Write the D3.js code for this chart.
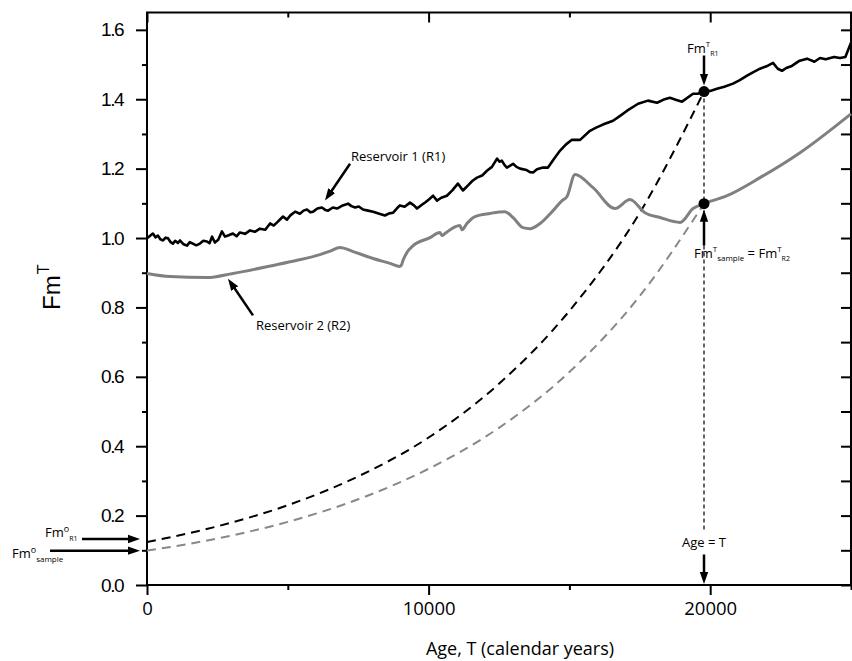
<!DOCTYPE html>
<html>
<head>
<meta charset="utf-8">
<script src="https://cdn.jsdelivr.net/npm/d3@7"></script>
<style>
  body { margin: 0; background: #fff; }
  .ytick text { font-family: "Liberation Sans", Arial, sans-serif; font-size: 19px; letter-spacing: -1.5px; fill: #000; }
  .xtick text { font-family: "Open Sans", sans-serif; font-size: 18.5px; fill: #000; }
  .tick line { stroke: #000; stroke-width: 2px; }
  .note { font-family: "Open Sans", sans-serif; font-size: 13px; fill: #000; }
</style>
</head>
<body>
<div id="chart"></div>
<script>
// Reservoir 1 (black, noisy record)
var r1Age = [0,100,210,300,390,480,570,660,750,840,920,1000,1100,1170,1300,1420,1520,1630,1750,1880,
  2000,2130,2220,2310,2410,2530,2660,2770,2900,3050,3180,3300,3480,3660,3830,4010,4200,4370,4500,4620,
  4830,4970,5100,5260,5430,5560,5680,5800,5900,6050,6210,6330,6430,6600,6750,6950,7140,7260,7390,7520,
  7670,7850,8030,8250,8450,8600,8740,8870,8980,9150,9340,9480,9590,9750,9900,10020,10160,10300,10450,10650,
  10850,11040,11220,11400,11560,11720,11900,12070,12250,12430,12520,12600,12700,12780,13000,13120,13250,13480,13600,13710,
  13850,14060,14240,14450,14670,14880,15090,15380,15730,15950,16190,16550,16800,17050,17440,17790,18110,18350,18570,18800,
  19000,19390,19560,19780,20000,20240,20500,20810,21050,21310,21550,21770,22000,22230,22400,22550,22700,22900,23150,23440,
  23700,23900,24100,24400,24610,24800,25000];
var r1Fm = [0.999,1.006,1.013,1.002,1.007,0.996,0.993,1.001,0.999,0.988,0.984,0.992,0.986,0.993,0.982,0.978,0.988,0.984,0.979,0.984,
  0.992,0.990,0.985,1.004,0.987,0.995,1.019,1.004,1.008,1.013,1.005,1.016,1.012,1.022,1.018,1.027,1.024,1.042,1.036,1.045,
  1.062,1.053,1.066,1.076,1.070,1.079,1.082,1.074,1.076,1.085,1.088,1.081,1.079,1.088,1.085,1.094,1.099,1.092,1.088,1.091,
  1.082,1.079,1.076,1.070,1.065,1.071,1.073,1.085,1.094,1.090,1.102,1.094,1.085,1.095,1.104,1.112,1.122,1.108,1.116,1.122,
  1.138,1.157,1.137,1.152,1.165,1.174,1.180,1.194,1.205,1.229,1.220,1.223,1.210,1.203,1.214,1.205,1.200,1.196,1.190,1.189,
  1.198,1.203,1.203,1.228,1.252,1.270,1.283,1.283,1.309,1.318,1.327,1.338,1.352,1.367,1.387,1.396,1.390,1.399,1.404,1.398,
  1.393,1.416,1.416,1.422,1.424,1.430,1.436,1.445,1.455,1.468,1.479,1.488,1.495,1.505,1.488,1.482,1.490,1.496,1.510,1.517,
  1.508,1.519,1.515,1.522,1.519,1.522,1.563];

// Reservoir 2 (grey record)
var r2Age = [0,820,2130,3050,4480,5300,6140,6500,6850,7320,8030,8630,8980,9050,9090,9230,9450,10050,10400,10480,
  10580,11110,11190,11360,11650,12180,12710,13000,13350,13600,13960,14420,14740,14910,15200,15840,16620,17150,17680,18220,
  18930,19390,19780,20600,21770,23190,25000];
var r2Fm = [0.898,0.889,0.886,0.898,0.921,0.935,0.952,0.962,0.973,0.961,0.941,0.927,0.918,0.925,0.935,0.958,0.978,1.001,1.016,1.007,
  1.013,1.036,1.024,1.042,1.062,1.071,1.076,1.059,1.030,1.027,1.042,1.079,1.108,1.119,1.183,1.145,1.085,1.111,1.073,1.059,
  1.045,1.085,1.099,1.122,1.174,1.246,1.358];

// back-projected decay curves (dashed)
var decayR1Age = [0,2500,5000,7500,10000,12500,15000,17500,19780];
var decayR1Fm  = [0.124,0.169,0.230,0.313,0.425,0.580,0.790,1.073,1.422];
var decayS2Age = [0,2500,5000,7500,10000,12500,15000,17500,19780];
var decayS2Fm  = [0.099,0.134,0.182,0.247,0.335,0.453,0.614,0.833,1.099];

// sample age and the two matched values
var sampleAge = 19780;
var fmTR1 = 1.422, fmTSample = 1.099;

var xMajor = [0, 10000, 20000];
var xMinor = [5000, 15000, 25000];
var yMajor = [0, 0.2, 0.4, 0.6, 0.8, 1.0, 1.2, 1.4, 1.6];
var yMinor = [0.1, 0.3, 0.5, 0.7, 0.9, 1.1, 1.3, 1.5];

var margin = {top: 12.5, right: 1, bottom: 76, left: 147},
    width = 852 - margin.left - margin.right,
    height = 661 - margin.top - margin.bottom;

var x = d3.scaleLinear().domain([0, 25000]).range([0, width]);
var y = d3.scaleLinear().domain([0, 1.65]).range([height, 0]);

var root = d3.select("#chart").append("svg")
    .attr("width", 852)
    .attr("height", 661);

var defs = root.append("defs");
defs.append("marker")
    .attr("id", "head")
    .attr("viewBox", "0 -5 12 10")
    .attr("refX", 4)
    .attr("refY", 0)
    .attr("markerWidth", 12)
    .attr("markerHeight", 10)
    .attr("markerUnits", "userSpaceOnUse")
    .attr("orient", "auto")
  .append("path")
    .attr("d", "M0,-4.2L12,0L0,4.2Z")
    .attr("fill", "#000");

var svg = root.append("g")
    .attr("transform", "translate(" + margin.left + "," + margin.top + ")");

function zip(a, b) { return a.map(function(d, i) { return [d, b[i]]; }); }

// axes: left/bottom outward, top/right inward
function addAxis(axis, cls, tr) {
  var g = svg.append("g").attr("class", cls).attr("transform", tr || null).call(axis);
  g.select(".domain").remove();
  return g;
}
addAxis(d3.axisLeft(y).tickValues(yMajor).tickSize(11).tickPadding(13).tickFormat(d3.format(".1f")), "ytick");
addAxis(d3.axisLeft(y).tickValues(yMinor).tickSize(5).tickFormat(""), "ytick");
addAxis(d3.axisLeft(y).tickValues(yMajor.concat(yMinor)).tickSize(10).tickFormat(""), "ytick", "translate(" + width + ",0)");
addAxis(d3.axisBottom(x).tickValues(xMajor).tickSize(10).tickPadding(7).tickFormat(d3.format("d")), "xtick", "translate(0," + height + ")");
addAxis(d3.axisBottom(x).tickValues(xMinor).tickSize(5).tickFormat(""), "xtick", "translate(0," + height + ")");
addAxis(d3.axisBottom(x).tickValues(xMajor).tickSize(10).tickFormat(""), "xtick");
addAxis(d3.axisBottom(x).tickValues(xMinor).tickSize(5).tickFormat(""), "xtick");

svg.append("rect")
    .attr("width", width)
    .attr("height", height)
    .attr("fill", "none")
    .attr("stroke", "#000")
    .attr("stroke-width", 2);

var line = d3.line().x(function(d) { return x(d[0]); }).y(function(d) { return y(d[1]); });
var smooth = d3.line().curve(d3.curveMonotoneX).x(function(d) { return x(d[0]); }).y(function(d) { return y(d[1]); });

// dashed decay curves
svg.append("path").datum(zip(decayS2Age, decayS2Fm))
    .attr("d", smooth).attr("fill", "none")
    .attr("stroke", "#888").attr("stroke-width", 2).attr("stroke-dasharray", "9,6");
svg.append("path").datum(zip(decayR1Age, decayR1Fm))
    .attr("d", smooth).attr("fill", "none")
    .attr("stroke", "#000").attr("stroke-width", 2).attr("stroke-dasharray", "9,6");

// vertical guide at age T
svg.append("line")
    .attr("x1", x(sampleAge)).attr("x2", x(sampleAge))
    .attr("y1", y(fmTR1)).attr("y2", 520)
    .attr("stroke", "#000").attr("stroke-width", 1.2).attr("stroke-dasharray", "4,3");

// reservoir records
svg.append("path").datum(zip(r2Age, r2Fm))
    .attr("d", smooth).attr("fill", "none")
    .attr("stroke", "#808080").attr("stroke-width", 3).attr("stroke-linejoin", "round");
svg.append("path").datum(zip(r1Age, r1Fm))
    .attr("d", line).attr("fill", "none")
    .attr("stroke", "#000").attr("stroke-width", 2.6).attr("stroke-linejoin", "round");

// points
svg.selectAll(".dot").data([fmTR1, fmTSample]).enter().append("circle")
    .attr("class", "dot")
    .attr("cx", x(sampleAge))
    .attr("cy", function(d) { return y(d); })
    .attr("r", 5.5)
    .attr("fill", "#000");

// arrows: tail -> tip, in pixel coords of the plot group
function arrow(x1, y1, x2, y2) {
  var dx = x2 - x1, dy = y2 - y1, len = Math.sqrt(dx * dx + dy * dy);
  svg.append("line")
      .attr("x1", x1).attr("y1", y1)
      .attr("x2", x2 - dx / len * 8).attr("y2", y2 - dy / len * 8)
      .attr("stroke", "#000").attr("stroke-width", 2.5)
      .attr("marker-end", "url(#head)");
}
function rich(px, py, parts, anchor) {
  var t = svg.append("text").attr("class", "note").attr("x", px).attr("y", py)
      .attr("text-anchor", anchor || "start");
  parts.forEach(function(p) {
    var s = t.append("tspan").text(p[0]);
    if (p[1]) s.style("font-size", p[1] + "px");
    if (p[2]) s.attr("dy", p[2]);
  });
  return t;
}

var xs = x(sampleAge);
arrow(x(7210), y(1.214), x(6320), y(1.108));
rich(x(7240), y(1.222), [["Reservoir 1 (R1)"]]);
arrow(x(3764), y(0.777), x(2876), y(0.883));
rich(x(3870), y(0.734), [["Reservoir 2 (R2)"]]);

arrow(xs, 43, xs, y(fmTR1) - 6);
rich(xs - 17, 40, [["Fm"], ["T", 8, -6], ["R1", 7, 9]]);

arrow(xs, 233, xs, y(fmTSample) + 6);
rich(xs - 10, 245.5, [["Fm"], ["T", 8, -6], ["sample", 8, 9], [" = Fm", null, -3], ["T", 8, -6], ["R2", 7, 9]]);

rich(xs, 534.5, [["Age = T"]], "middle");
arrow(xs, 542, xs, height - 1);

arrow(-65, y(decayR1Fm[0]) - 3, -7, y(decayR1Fm[0]) - 3);
rich(-102, 524.5, [["Fm"], ["o", 9, -5], ["R1", 7, 9]]);
arrow(-97, y(decayS2Fm[0]), -7, y(decayS2Fm[0]));
rich(-135, 545.5, [["Fm"], ["o", 9, -5], ["sample", 8, 9]]);

// axis titles
svg.append("text")
    .attr("x", 373)
    .attr("y", height + 70)
    .attr("text-anchor", "middle")
    .style("font-family", "'Open Sans', sans-serif")
    .style("font-size", "18px")
    .text("Age, T (calendar years)");

var yt = svg.append("text")
    .attr("transform", "translate(" + (60 - margin.left) + "," + (310 - margin.top) + ") rotate(-90)")
    .style("font-family", "'Liberation Sans', Arial, sans-serif")
    .style("font-size", "24px");
yt.append("tspan").text("Fm");
yt.append("tspan").text("T").style("font-size", "16px").attr("dy", -11).attr("dx", 1);
</script>
</body>
</html>
